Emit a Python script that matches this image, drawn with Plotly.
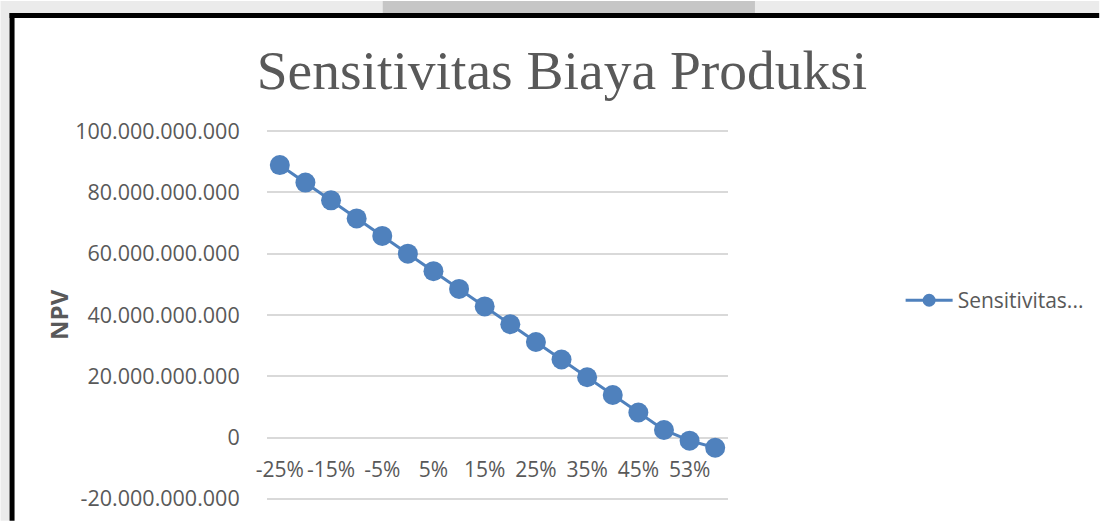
import plotly.graph_objects as go

categories = ["-25%", "-20%", "-15%", "-10%", "-5%", "0%", "5%", "10%", "15%",
              "20%", "25%", "30%", "35%", "40%", "45%", "50%", "53%", "55%"]
npv_values = [88.9e9, 83.2e9, 77.4e9, 71.5e9, 65.8e9, 60.0e9, 54.3e9, 48.5e9, 42.8e9,
              37.0e9, 31.2e9, 25.5e9, 19.7e9, 13.9e9, 8.2e9, 2.5e9, -1.0e9, -3.3e9]
series_name = "Sensitivitas..."
y_ticks = [-20e9, 0, 20e9, 40e9, 60e9, 80e9, 100e9]
y_tick_labels = ["-20.000.000.000", "0", "20.000.000.000", "40.000.000.000",
                 "60.000.000.000", "80.000.000.000", "100.000.000.000"]

W, H = 1101, 524
ML, MR, MT, MB = 267, 372, 128, 19
PW, PH = W - ML - MR, H - MT - MB
Y_LO, Y_HI = -21e9, 101e9

def px(x):
    return (x - ML) / PW

def py(y):
    return (H - MB - y) / PH

TXT = "#595959"
BLUE = "#4F81BD"

fig = go.Figure()
fig.add_trace(go.Scatter(
    x=categories, y=npv_values, name=series_name, mode="lines+markers",
    line=dict(color=BLUE, width=3),
    marker=dict(color=BLUE, size=20),
    showlegend=False,
))
# legend entry with the smaller legend symbol used by the original
fig.add_trace(go.Scatter(
    x=[None], y=[None], name=series_name, mode="lines+markers",
    line=dict(color=BLUE, width=3),
    marker=dict(color=BLUE, size=13),
    showlegend=True, hoverinfo="skip",
))

shapes = [
    dict(type="rect", xref="paper", yref="paper", x0=px(0), x1=px(W), y0=py(12), y1=py(0),
         fillcolor="#ebebeb", line=dict(width=0), layer="below"),
    dict(type="rect", xref="paper", yref="paper", x0=px(383), x1=px(756), y0=py(12), y1=py(0),
         fillcolor="#c6c6c6", line=dict(width=0), layer="below"),
    dict(type="rect", xref="paper", yref="paper", x0=px(0), x1=px(9), y0=py(H), y1=py(12),
         fillcolor="#ebebeb", line=dict(width=0), layer="below"),
    dict(type="rect", xref="paper", yref="paper", x0=px(9), x1=px(W), y0=py(17), y1=py(12),
         fillcolor="#000000", line=dict(width=0)),
    dict(type="rect", xref="paper", yref="paper", x0=px(9), x1=px(14), y0=py(H), y1=py(12),
         fillcolor="#000000", line=dict(width=0)),
]

fig.update_layout(
    width=W, height=H,
    margin=dict(l=ML, r=MR, t=MT, b=MB, pad=0),
    paper_bgcolor="white", plot_bgcolor="white",
    font=dict(family="Open Sans", size=21, color=TXT),
    title=dict(text="Sensitivitas Biaya Produksi", x=562 / W, xanchor="center",
               y=1 - 70 / H, yanchor="middle",
               font=dict(family="Liberation Serif", size=55.5, color=TXT)),
    xaxis=dict(type="category", range=[-0.5, len(categories) - 0.5],
               tickvals=categories[::2], ticktext=categories[::2],
               anchor="free", position=(0 - Y_LO) / (Y_HI - Y_LO),
               showgrid=False, zeroline=False, showline=False,
               ticks="outside", ticklen=13, tickcolor="rgba(0,0,0,0)",
               tickfont=dict(size=21, color=TXT)),
    yaxis=dict(range=[Y_LO, Y_HI], tickvals=y_ticks, ticktext=y_tick_labels,
               showgrid=True, gridcolor="#d9d9d9", gridwidth=1.5,
               zeroline=False, showline=False,
               ticks="outside", ticklen=22, tickcolor="rgba(0,0,0,0)",
               tickfont=dict(size=21.5, color=TXT)),
    legend=dict(x=px(902), xanchor="left", y=py(302), yanchor="middle",
                itemwidth=47,
                font=dict(size=21, color=TXT), bgcolor="rgba(0,0,0,0)"),
    annotations=[dict(text="<b>NPV</b>", xref="paper", yref="paper",
                      x=px(58), y=py(316), xanchor="center", yanchor="middle",
                      textangle=-90, showarrow=False,
                      font=dict(size=24, color=TXT))],
    shapes=shapes,
)

fig.write_html("out.html")
